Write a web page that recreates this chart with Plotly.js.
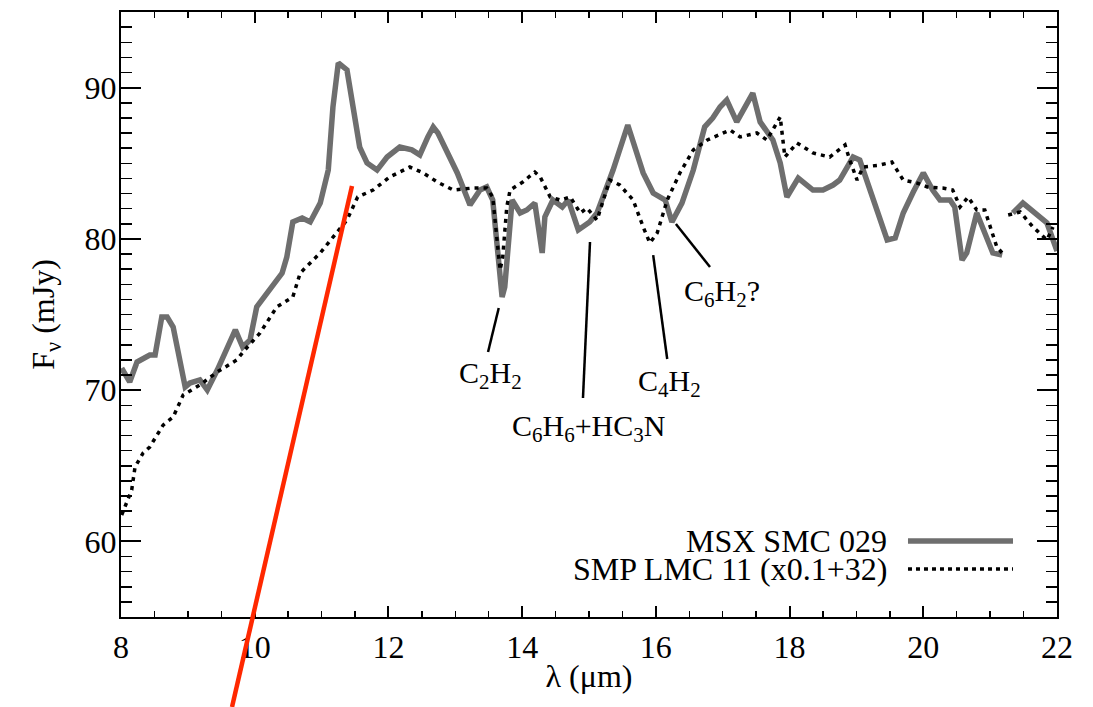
<!DOCTYPE html>
<html>
<head>
<meta charset="utf-8">
<script src="https://cdn.plot.ly/plotly-3.0.1.min.js"></script>
<style>html,body{margin:0;padding:0;background:#fff;}#chart{width:1093px;height:707px;}</style>
</head>
<body>
<div id="chart"></div>
<script>
// MSX SMC 029 spectrum (wavelength in micron, flux in mJy)
var msxWave = [8.01,8.13,8.24,8.43,8.51,8.61,8.69,8.78,8.96,9.03,9.18,9.29,9.44,9.71,9.82,9.93,10.03,10.18,10.41,10.48,10.57,10.71,10.83,10.98,11.10,11.17,11.25,11.38,11.57,11.68,11.83,11.98,12.17,12.35,12.47,12.59,12.67,12.74,13.03,13.22,13.37,13.47,13.56,13.70,13.74,13.85,13.97,14.07,14.19,14.30,14.34,14.46,14.60,14.69,14.84,15.01,15.12,15.36,15.58,15.81,15.96,16.14,16.24,16.39,16.56,16.73,16.85,16.96,17.06,17.21,17.30,17.45,17.56,17.75,17.86,17.96,18.13,18.35,18.50,18.65,18.75,18.95,19.05,19.20,19.35,19.46,19.58,19.70,19.85,20.00,20.14,20.25,20.40,20.47,20.58,20.65,20.80,20.95,21.04,21.18,null,21.34,21.49,21.85,22.00];
var msxFlux = [71.46,70.54,71.86,72.32,72.32,74.83,74.83,74.17,70.21,70.47,70.67,70.01,71.33,73.98,72.85,73.31,75.50,76.42,77.74,78.80,81.12,81.38,81.12,82.37,84.55,88.72,91.63,91.17,86.07,85.02,84.55,85.41,86.07,85.88,85.55,86.74,87.40,87.00,84.36,82.24,83.23,83.43,82.57,76.16,76.82,82.57,81.71,81.91,82.37,79.07,81.45,82.57,82.11,82.57,80.59,81.12,81.71,84.55,87.53,84.36,83.03,82.57,81.12,82.37,84.55,87.40,87.99,88.72,89.18,87.73,88.52,89.64,87.73,86.54,85.02,82.77,84.02,83.23,83.23,83.56,83.89,85.41,85.21,83.23,81.25,79.93,80.06,81.71,83.10,84.36,83.23,82.57,82.57,82.11,78.60,79.07,81.71,79.93,79.07,78.93,null,81.71,82.37,81.05,79.20];

// SMP LMC 11 spectrum (x0.1+32)
var smpWave = [8.01,8.16,8.21,8.33,8.43,8.63,8.78,8.93,9.18,9.44,9.73,9.85,10.08,10.33,10.57,10.68,10.98,11.17,11.38,11.54,11.77,12.02,12.32,12.52,12.73,12.97,13.26,13.47,13.56,13.67,13.71,13.77,13.82,14.01,14.19,14.27,14.42,14.57,14.72,14.87,14.97,15.12,15.31,15.46,15.66,15.81,15.91,16.02,16.17,16.36,16.56,16.77,17.11,17.26,17.51,17.66,17.86,17.93,18.11,18.35,18.60,18.83,18.90,19.01,19.10,19.35,19.53,19.70,19.91,20.06,20.29,20.44,20.55,20.67,20.80,20.92,21.00,21.10,21.18,null,21.27,21.45,21.64,21.85,21.94];
var smpFlux = [61.74,63.40,64.92,65.84,66.24,67.69,68.22,69.68,70.34,71.20,71.99,72.65,73.78,75.50,76.16,77.74,79.07,80.12,81.25,82.77,83.23,84.09,84.75,84.36,83.76,83.23,83.36,83.36,82.77,77.94,78.80,82.11,83.23,83.76,84.42,84.09,82.77,82.57,82.77,81.71,82.04,81.25,83.89,83.56,82.57,80.79,79.73,80.39,82.57,84.36,85.88,86.54,87.20,86.74,87.00,86.54,88.06,85.41,86.34,85.68,85.41,86.21,85.21,83.89,84.75,84.88,85.08,83.89,83.69,83.43,83.36,83.23,82.11,82.77,81.91,81.91,80.79,79.46,79.07,null,81.58,81.78,80.79,79.93,80.79];

// Legend labels
var seriesNames = ["MSX SMC 029", "SMP LMC 11 (x0.1+32)"];

// Feature labels and the points their pointer lines join
var featLabels = ["C<sub>2</sub>H<sub>2</sub>", "C<sub>6</sub>H<sub>6</sub>+HC<sub>3</sub>N", "C<sub>4</sub>H<sub>2</sub>", "C<sub>6</sub>H<sub>2</sub>?"];
var featLabelX = [13.52, 14.99, 16.21, 16.99];
var featLabelY = [71.0, 67.5, 70.47, 76.42];
var ptrX0 = [13.65, 15.015, 15.96, 16.30];
var ptrY0 = [75.43, 79.79, 78.93, 80.98];
var ptrX1 = [13.49, 14.91, 16.17, 16.81];
var ptrY1 = [72.52, 69.48, 72.06, 78.14];

var serif = "Liberation Serif, Times New Roman, serif";

var traces = [
  {x: msxWave, y: msxFlux, mode: "lines", name: seriesNames[0], connectgaps: false,
   line: {color: "rgb(110,110,110)", width: 5.5}, showlegend: false},
  {x: smpWave, y: smpFlux, mode: "lines", name: seriesNames[1], connectgaps: false,
   line: {color: "black", width: 3.5, dash: "4px,5px"}, showlegend: false}
];

var annotations = [];
var shapes = [];
for (var i = 0; i < featLabels.length; i++) {
  annotations.push({x: featLabelX[i], y: featLabelY[i], xref: "x", yref: "y", text: featLabels[i],
    showarrow: false, xanchor: "center", yanchor: "middle", font: {family: serif, size: 30, color: "black"}});
  shapes.push({type: "line", xref: "x", yref: "y", x0: ptrX0[i], y0: ptrY0[i], x1: ptrX1[i], y1: ptrY1[i],
    line: {color: "black", width: 2.5}});
}
// legend (text on the left, sample line on the right)
annotations.push({x: 0.8194, y: 0.1256, xref: "paper", yref: "paper", text: seriesNames[0], showarrow: false,
  xanchor: "right", yanchor: "middle", borderpad: 0, font: {family: serif, size: 32, color: "black"}});
annotations.push({x: 0.8194, y: 0.0793, xref: "paper", yref: "paper", text: seriesNames[1], showarrow: false,
  xanchor: "right", yanchor: "middle", borderpad: 0, font: {family: serif, size: 32, color: "black"}});
shapes.push({type: "line", xref: "paper", yref: "paper", x0: 0.8408, x1: 0.953, y0: 0.1256, y1: 0.1256,
  line: {color: "rgb(110,110,110)", width: 5.5}});
shapes.push({type: "line", xref: "paper", yref: "paper", x0: 0.8408, x1: 0.953, y0: 0.0793, y1: 0.0793,
  line: {color: "black", width: 3.5, dash: "4px,4px"}});
// red overlay line
shapes.push({type: "line", xref: "paper", yref: "paper", x0: 0.2468, y0: 0.7124, x1: 0.1186, y1: -0.1488,
  line: {color: "rgb(255,40,0)", width: 4.5}});

var layout = {
  width: 1093, height: 707,
  margin: {l: 121, r: 36, t: 12, b: 90},
  paper_bgcolor: "white", plot_bgcolor: "white",
  font: {family: serif, size: 32, color: "black"},
  xaxis: {
    range: [8, 22], dtick: 2, tick0: 8, ticks: "inside", ticklen: 11, tickwidth: 2, tickcolor: "black",
    minor: {dtick: 0.5, ticks: "inside", ticklen: 6, tickwidth: 1.5, tickcolor: "black", showgrid: false},
    showline: true, linewidth: 2, linecolor: "black", mirror: "ticks", showgrid: false, zeroline: false,
    tickfont: {family: serif, size: 32, color: "black"}, ticklabelstandoff: 1,
    title: {text: "λ (μm)", font: {family: serif, size: 32, color: "black"}, standoff: 0}
  },
  yaxis: {
    range: [55, 95], dtick: 10, tick0: 60, ticks: "inside", ticklen: 20, tickwidth: 2, tickcolor: "black",
    minor: {dtick: 1, ticks: "inside", ticklen: 11, tickwidth: 1.5, tickcolor: "black", showgrid: false},
    showline: true, linewidth: 2, linecolor: "black", mirror: "ticks", showgrid: false, zeroline: false,
    tickfont: {family: serif, size: 32, color: "black"}, ticklabelstandoff: -4,
    title: {text: "F<sub>ν</sub> (mJy)", font: {family: serif, size: 32, color: "black"}, standoff: 20}
  },
  annotations: annotations,
  shapes: shapes
};

Plotly.newPlot("chart", traces, layout, {staticPlot: true, displayModeBar: false});
</script>
</body>
</html>
